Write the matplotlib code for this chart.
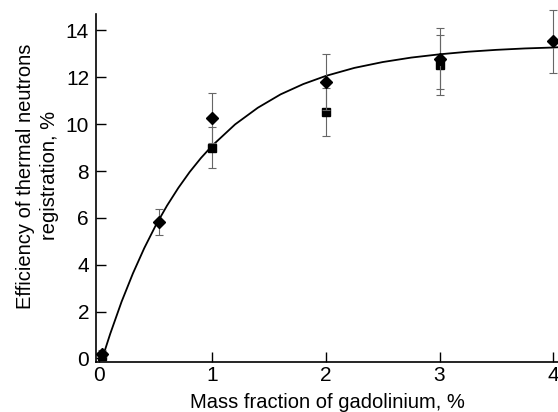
import matplotlib
matplotlib.use("Agg")
import matplotlib.pyplot as plt

# values
gd_diamond = [0.03, 0.53, 1.0, 2.0, 3.0, 4.0]
eff_diamond = [0.2, 5.82, 10.28, 11.81, 12.8, 13.53]
err_diamond = [0.15, 0.57, 1.07, 1.2, 1.3, 1.33]

gd_square = [0.03, 1.0, 2.0, 3.0]
eff_square = [0.1, 9.0, 10.52, 12.52]
err_square = [0.1, 0.87, 1.04, 1.27]

# fitted saturation curve
curve_x = [0.03, 0.1, 0.2, 0.3, 0.4, 0.5, 0.6, 0.7, 0.8, 0.9, 1.0, 1.2, 1.4, 1.6,
           1.8, 2.0, 2.25, 2.5, 2.75, 3.0, 3.25, 3.5, 3.75, 4.0, 4.04]
curve_y = [0.0, 1.05, 2.42, 3.63, 4.71, 5.67, 6.52, 7.28, 7.96, 8.56, 9.09, 9.99, 10.70,
           11.27, 11.71, 12.06, 12.40, 12.65, 12.84, 12.98, 13.09, 13.17, 13.23, 13.27, 13.28]

x_ticks = [0, 1, 2, 3, 4]
y_ticks = [0, 2, 4, 6, 8, 10, 12, 14]

plt.rcParams["font.family"] = ["Liberation Sans", "DejaVu Sans"]

fig = plt.figure(figsize=(5.58, 4.12), dpi=100)
ax = fig.add_axes([96 / 558, 50 / 412, 462 / 558, 348 / 412])

ax.plot(curve_x, curve_y, color="black", lw=1.3, zorder=2, clip_on=False)
ax.errorbar(gd_square, eff_square, yerr=err_square, fmt="s", ms=6, color="black",
            ecolor="0.4", elinewidth=0.8, capsize=3, capthick=0.8, zorder=3, clip_on=False)
ax.errorbar(gd_diamond, eff_diamond, yerr=err_diamond, fmt="D", ms=6.5, color="black",
            ecolor="0.4", elinewidth=0.8, capsize=3, capthick=0.8, zorder=4, clip_on=False)

ax.set_xlim(-0.025, 4.043)
ax.set_ylim(-0.15, 14.7)
ax.set_xticks(x_ticks)
ax.set_yticks(y_ticks)
ax.tick_params(direction="in", length=7, width=1, labelsize=15, pad=5)
ax.tick_params(axis="x", pad=3)
for s in ("top", "right"):
    ax.spines[s].set_visible(False)
for s in ("left", "bottom"):
    ax.spines[s].set_linewidth(1.2)

ax.set_xlabel("Mass fraction of gadolinium, %", fontsize=14.5, labelpad=6)
ax.set_ylabel("Efficiency of thermal neutrons\nregistration, %", fontsize=14.5,
              linespacing=1.35)
ax.yaxis.set_label_coords(-0.08, 0.535)

fig.savefig("out.png", dpi=100)
